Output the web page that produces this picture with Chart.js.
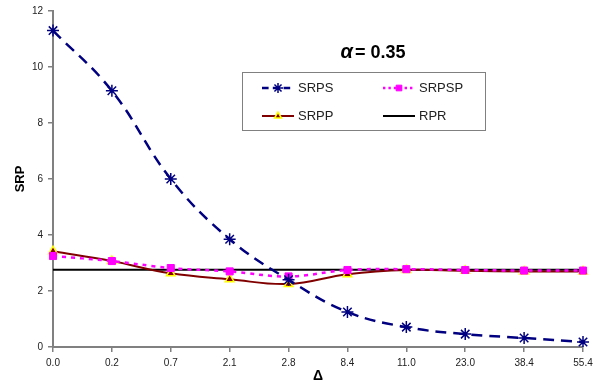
<!DOCTYPE html>
<html>
<head>
<meta charset="utf-8">
<script src="https://cdn.jsdelivr.net/npm/chart.js@4"></script>
<style>
  body { margin: 0; background: #fff; }
  #wrap { width: 599px; height: 385px; }
</style>
</head>
<body>
<div id="wrap"><canvas id="ctx_srp"></canvas></div>
<script>
const delta_labels = ['0.0', '0.2', '0.7', '2.1', '2.8', '8.4', '11.0', '23.0', '38.4', '55.4'];
const srps  = [11.3, 9.15, 6.0, 3.85, 2.4, 1.25, 0.71, 0.46, 0.32, 0.18];
const srpsp = [3.25, 3.07, 2.82, 2.7, 2.52, 2.75, 2.78, 2.75, 2.73, 2.73];
const srpp  = [3.42, 3.07, 2.63, 2.42, 2.25, 2.6, 2.75, 2.72, 2.7, 2.7];
const rpr   = [2.76, 2.76, 2.76, 2.76, 2.76, 2.76, 2.76, 2.76, 2.76, 2.76];
const y_ticks = [0, 2, 4, 6, 8, 10, 12];

Chart.defaults.font.family = 'Arial, "Liberation Sans", sans-serif';
Chart.defaults.color = '#222';

// legend box + alpha title drawn inside the plot
const boxLegend = {
    id: 'boxLegend',
    afterDraw(chart) {
        const c = chart.ctx;
        c.save();
        // title
        c.fillStyle = '#000';
        c.textBaseline = 'middle';
        c.font = 'italic bold 20px Arial, "Liberation Sans"';
        const aw = c.measureText('α').width;
        c.font = 'bold 18px Arial, "Liberation Sans"';
        const rest = '= 0.35';
        const rw = c.measureText(rest).width;
        let x0 = 373 - (aw + 2 + rw) / 2;
        c.font = 'italic bold 20px Arial, "Liberation Sans"';
        c.fillText('α', x0, 52);
        c.font = 'bold 18px Arial, "Liberation Sans"';
        c.fillText(rest, x0 + aw + 2, 53);

        // box
        c.fillStyle = '#fff';
        c.fillRect(242, 72, 243, 58);
        c.strokeStyle = '#808080';
        c.lineWidth = 1;
        c.strokeRect(242.5, 72.5, 243, 58);

        const items = [
            {ds: 0, x: 262, y: 88},
            {ds: 1, x: 383, y: 88},
            {ds: 2, x: 262, y: 116},
            {ds: 3, x: 383, y: 116}
        ];
        c.font = '13px Arial, "Liberation Sans"';
        items.forEach(it => {
            const d = chart.data.datasets[it.ds];
            c.save();
            c.strokeStyle = d.borderColor;
            c.lineWidth = d.borderWidth;
            if (d.borderDash) c.setLineDash(d.borderDash.map(v => v * 0.6));
            c.beginPath();
            c.moveTo(it.x, it.y);
            c.lineTo(it.x + 32, it.y);
            c.stroke();
            c.restore();
            if (d.pointRadius > 0) {
                c.save();
                c.fillStyle = d.pointBackgroundColor;
                c.strokeStyle = d.pointBorderColor;
                c.lineWidth = d.pointBorderWidth;
                Chart.helpers.drawPoint(c, {pointStyle: d.pointStyle, radius: d.pointRadius - 1, borderWidth: d.pointBorderWidth}, it.x + 16, it.y);
                c.restore();
            }
            c.fillStyle = '#222';
            c.textBaseline = 'middle';
            c.fillText(d.label, it.x + 36, it.y);
        });
        c.restore();
    }
};

new Chart(document.getElementById('ctx_srp').getContext('2d'), {
    type: 'line',
    data: {
        labels: delta_labels,
        datasets: [
            {
                label: 'SRPS',
                data: srps,
                borderColor: '#000080',
                borderWidth: 2.5,
                borderDash: [11, 7],
                tension: 0.4,
                pointStyle: 'star',
                pointRadius: 6,
                pointBorderWidth: 1.5,
                pointBorderColor: '#000080',
                pointBackgroundColor: '#000080'
            },
            {
                label: 'SRPSP',
                data: srpsp,
                borderColor: '#ff00ff',
                borderWidth: 2.5,
                borderDash: [4, 5],
                tension: 0.4,
                pointStyle: 'rect',
                pointRadius: 5,
                pointBorderWidth: 1,
                pointBorderColor: '#ff00ff',
                pointBackgroundColor: '#ff00ff'
            },
            {
                label: 'SRPP',
                data: srpp,
                borderColor: '#800000',
                borderWidth: 2,
                tension: 0.4,
                pointStyle: 'triangle',
                pointRadius: 5,
                pointBorderWidth: 1.5,
                pointBorderColor: '#ffff00',
                pointBackgroundColor: '#800000'
            },
            {
                label: 'RPR',
                data: rpr,
                borderColor: '#000000',
                borderWidth: 2,
                pointRadius: 0
            }
        ]
    },
    options: {
        responsive: true,
        maintainAspectRatio: false,
        animation: false,
        layout: { padding: { left: 0, right: 16, top: 11, bottom: 0 } },
        plugins: {
            legend: { display: false },
            tooltip: { enabled: false }
        },
        scales: {
            x: {
                type: 'category',
                offset: false,
                grid: { display: true, drawOnChartArea: false, tickLength: 5, color: '#808080', lineWidth: 1.5 },
                border: { color: '#808080', width: 2 },
                ticks: { font: { size: 10 }, padding: 5, maxRotation: 0, autoSkip: false },
                title: { display: true, text: 'Δ', font: { size: 14, weight: 'bold' }, color: '#000', padding: { top: 2, bottom: 0 } },
                afterFit: s => { s.height = 38; }
            },
            y: {
                min: 0,
                max: 12,
                afterBuildTicks: s => { s.ticks = y_ticks.map(v => ({ value: v })); },
                grid: { display: true, drawOnChartArea: false, tickLength: 5, color: '#808080', lineWidth: 1.5 },
                border: { color: '#808080', width: 2 },
                ticks: { font: { size: 10 }, padding: 5 },
                title: { display: true, text: 'SRP', font: { size: 13, weight: 'bold' }, color: '#000', padding: { top: 13, bottom: 0 } },
                afterFit: s => { s.width = 53; }
            }
        }
    },
    plugins: [boxLegend]
});
</script>
</body>
</html>
